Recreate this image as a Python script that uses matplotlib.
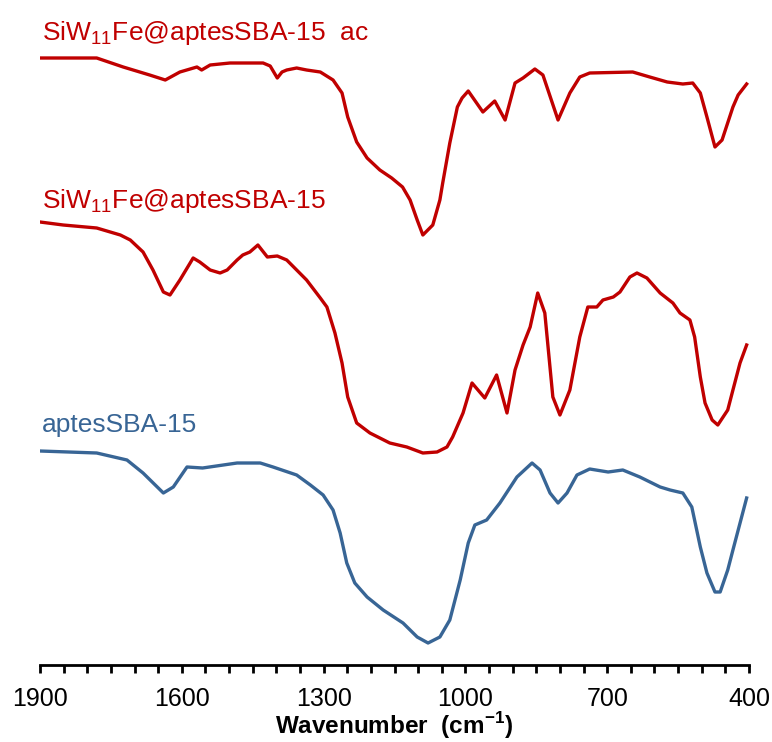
import matplotlib
matplotlib.use("Agg")
import matplotlib.pyplot as plt
from matplotlib.ticker import MultipleLocator
import numpy as np

plt.rcParams['font.family'] = ['Liberation Sans', 'DejaVu Sans']
plt.rcParams['mathtext.fontset'] = 'custom'
plt.rcParams['mathtext.rm'] = 'Liberation Sans'
plt.rcParams['mathtext.bf'] = 'Liberation Sans:bold'

# FTIR spectra, wavenumber (cm-1) vs transmittance (a.u., stacked)
wn_ac = [1900, 1780, 1724, 1668, 1635, 1604, 1568, 1558, 1540, 1498, 1428, 1413,
         1398, 1388, 1378, 1357, 1336, 1307, 1280, 1261, 1249, 1230, 1208, 1181,
         1156, 1133, 1117, 1102, 1090, 1069, 1054, 1048, 1033, 1017, 1007, 994,
         963, 938, 916, 895, 878, 853, 836, 804, 779, 758, 737, 646, 610, 573,
         540, 519, 503, 489, 472, 457, 434, 423, 405]
t_ac = [60.7, 60.7, 59.8, 59.0, 58.5, 59.3, 59.8, 59.5, 60.0, 60.2, 60.2, 59.9,
        58.7, 59.3, 59.5, 59.7, 59.5, 59.3, 58.5, 57.2, 54.8, 52.3, 50.7, 49.5,
        48.7, 47.8, 46.5, 44.5, 43.0, 44.0, 46.5, 48.2, 52.2, 55.8, 56.7, 57.4,
        55.3, 56.4, 54.5, 58.2, 58.7, 59.6, 59.0, 54.5, 57.2, 58.8, 59.2, 59.3,
        58.8, 58.3, 58.1, 58.2, 57.2, 54.8, 51.8, 52.5, 55.8, 57.0, 58.1]

wn_siw = [1900, 1851, 1780, 1730, 1709, 1682, 1661, 1639, 1625, 1604, 1576, 1562,
          1540, 1519, 1504, 1483, 1471, 1456, 1439, 1419, 1398, 1378, 1357, 1336,
          1307, 1293, 1276, 1261, 1249, 1230, 1202, 1160, 1124, 1090, 1060, 1039,
          1027, 1005, 986, 959, 934, 912, 895, 878, 863, 847, 832, 815, 800, 779,
          758, 741, 722, 709, 687, 673, 652, 637, 616, 588, 561, 546, 525, 515,
          503, 493, 478, 466, 445, 434, 419, 405]
t_siw = [44.3, 44.0, 43.7, 43.0, 42.5, 41.3, 39.5, 37.3, 37.0, 38.5, 40.7, 40.3,
         39.5, 39.2, 39.5, 40.5, 41.0, 41.3, 42.0, 40.8, 40.9, 40.5, 39.5, 38.5,
         36.7, 35.8, 33.2, 30.2, 26.8, 24.2, 23.2, 22.2, 21.8, 21.2, 21.3, 21.8,
         22.8, 25.2, 28.2, 26.7, 29.0, 25.2, 29.5, 32.0, 33.8, 37.2, 35.2, 26.8,
         25.0, 27.5, 32.8, 35.8, 35.8, 36.5, 36.8, 37.3, 38.8, 39.2, 38.7, 37.2,
         36.2, 35.2, 34.5, 32.8, 28.8, 26.2, 24.5, 24.0, 25.5, 27.5, 30.2, 32.0]

wn_sba = [1900, 1780, 1716, 1682, 1639, 1618, 1589, 1556, 1483, 1434, 1407, 1357,
          1328, 1301, 1280, 1265, 1251, 1234, 1208, 1174, 1132, 1102, 1079, 1054,
          1033, 1011, 994, 980, 955, 927, 891, 859, 842, 821, 804, 785, 764, 737,
          698, 667, 631, 588, 567, 540, 521, 503, 489, 472, 461, 445, 434, 405]
t_sba = [21.4, 21.2, 20.5, 19.2, 17.2, 17.8, 19.8, 19.7, 20.2, 20.2, 19.8, 19.0,
         18.0, 17.0, 15.5, 13.2, 10.2, 8.2, 6.8, 5.5, 4.2, 2.8, 2.2, 2.8,
         4.5, 8.5, 12.2, 14.0, 14.5, 16.2, 18.8, 20.2, 19.5, 17.2, 16.2, 17.2,
         19.0, 19.6, 19.3, 19.5, 18.8, 17.8, 17.5, 17.2, 15.8, 11.8, 9.2, 7.3,
         7.3, 9.5, 11.5, 16.7]

labels = [r'SiW$_\mathregular{11}$Fe@aptesSBA-15  ac',
          r'SiW$_\mathregular{11}$Fe@aptesSBA-15',
          'aptesSBA-15']
label_y = [62.5, 45.7, 23.3]
ticks = [1900, 1600, 1300, 1000, 700, 400]
red = '#C00000'
blue = '#386595'

fig = plt.figure(figsize=(7.72, 7.42), dpi=100)
ax = fig.add_axes([40 / 772, 77 / 742, 709 / 772, 665 / 742])

ax.plot(wn_ac, t_ac, color=red, lw=2.4, solid_joinstyle='round')
ax.plot(wn_siw, t_siw, color=red, lw=2.4, solid_joinstyle='round')
ax.plot(wn_sba, t_sba, color=blue, lw=2.4, solid_joinstyle='round')

for lab, yy, c in zip(labels, label_y, [red, red, blue]):
    ax.text(1896, yy, lab, color=c, fontsize=19, va='baseline', ha='left')

ax.set_xlim(1900, 400)
ax.set_ylim(0, 66.5)
ax.set_xticks(ticks)
ax.set_xticklabels([str(t) for t in ticks])
ax.xaxis.set_minor_locator(MultipleLocator(50))
ax.tick_params(axis='x', which='both', direction='out', length=6, width=2,
               labelsize=18, pad=10)
ax.set_yticks([])
for s in ['left', 'right', 'top']:
    ax.spines[s].set_visible(False)
ax.spines['bottom'].set_linewidth(2)
ax.set_xlabel(r'Wavenumber  (cm$^{\mathregular{-1}}$)', fontsize=17.5,
              fontweight='bold', labelpad=-1)

fig.savefig('out.png', dpi=100)
